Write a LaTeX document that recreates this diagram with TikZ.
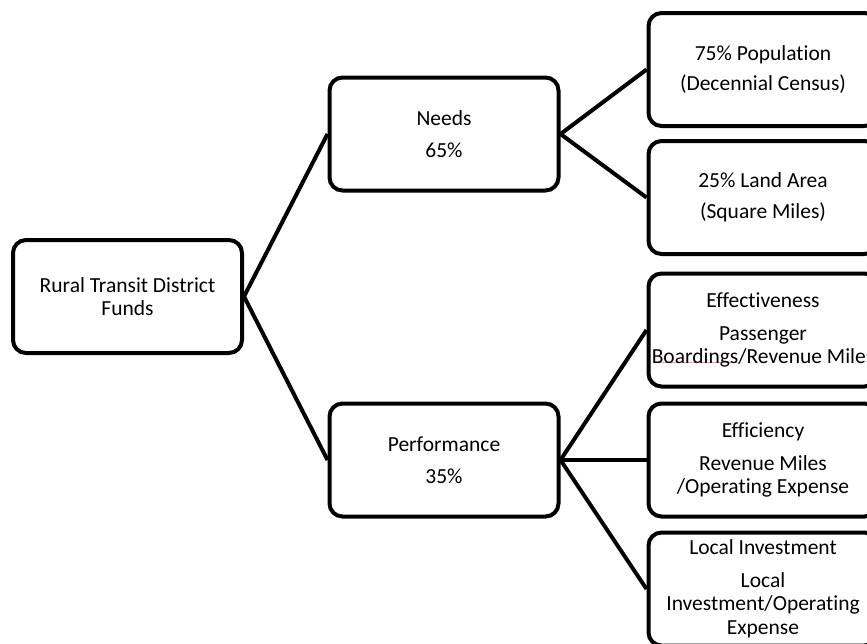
\documentclass[tikz,border=0pt]{standalone}
\usepackage{fontspec}
\setmainfont{Carlito}[Ligatures={NoCommon,NoContextual},RawFeature={-liga;-clig;-dlig}]
\begin{document}
\begin{tikzpicture}[x=1pt,y=-1pt,
  box/.style={draw=black, line width=4pt, rounded corners=13pt, minimum width=229pt, minimum height=113pt, align=center, inner sep=0pt, font=\fontsize{21.5}{23.5}\selectfont},
  conn/.style={line width=4pt}]
\useasboundingbox (0,0) rectangle (867,643);
\clip (0,0) rectangle (867,643);
\coordinate (ulA) at (656,362);
\coordinate (ulB) at (739,362);
\draw[red!40, line width=0.8pt] (ulA) -- (ulB);
\node[box] (rural) at (127.5,296.5) {Rural Transit District\\Funds};
\node[box] (needs) at (444,134) {Needs\\[8pt]65\%};
\node[box] (perf) at (444,460) {Performance\\[8pt]35\%};
\node[box] (pop) at (763,69.5) {75\% Population\\[6pt](Decennial Census)};
\node[box] (land) at (763,197.5) {25\% Land Area\\[7pt](Square Miles)};
\node[box] (eff) at (763,330) {Effectiveness\\[9pt]Passenger\\Boardings/Revenue Miles};
\node[box] (effi) at (763,460) {Efficiency\\[9pt]Revenue Miles\\/Operating Expense};
\node[box] (loc) at (763,589) {Local Investment\\[9pt]Local\\Investment/Operating\\Expense};
\draw[conn] (rural.east) -- (needs.west);
\draw[conn] (rural.east) -- (perf.west);
\draw[conn] (needs.east) -- (pop.west);
\draw[conn] (needs.east) -- (land.west);
\draw[conn] (perf.east) -- (eff.west);
\draw[conn] (perf.east) -- (effi.west);
\draw[conn] (perf.east) -- (loc.west);
\end{tikzpicture}
\end{document}
